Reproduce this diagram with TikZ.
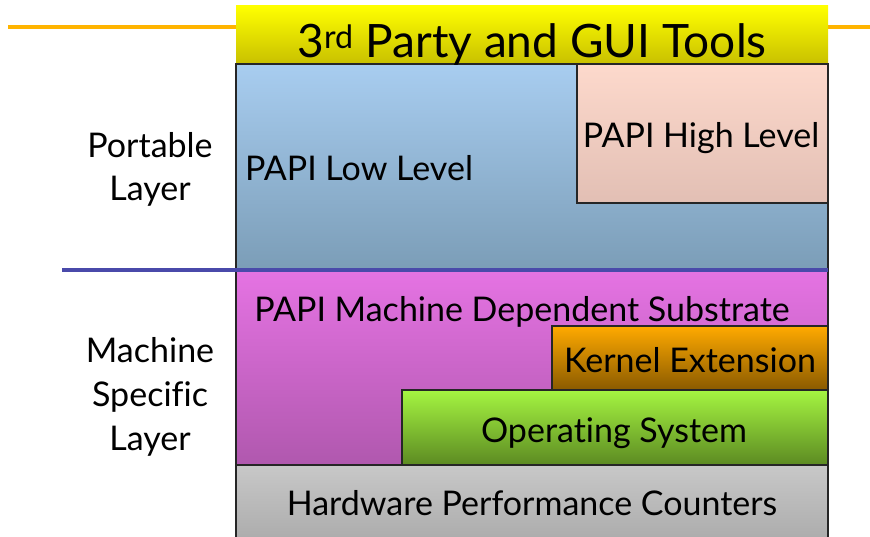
\documentclass[tikz,border=0pt]{standalone}
\usepackage{fontspec}
\setmainfont{Lato}[Ligatures=NoCommon]
\definecolor{ylTop}{HTML}{FFFF00}
\definecolor{ylBot}{HTML}{C8C000}
\definecolor{blTop}{HTML}{A8CDF0}
\definecolor{blBot}{HTML}{7B9DB7}
\definecolor{hiTop}{HTML}{FDD9CC}
\definecolor{hiBot}{HTML}{E2BFB4}
\definecolor{mgTop}{HTML}{E573E3}
\definecolor{mgBot}{HTML}{B058AE}
\definecolor{keTop}{HTML}{FFAA00}
\definecolor{keBot}{HTML}{8A5A00}
\definecolor{osTop}{HTML}{A5F541}
\definecolor{osBot}{HTML}{5C8A22}
\definecolor{hwTop}{HTML}{C8C8C8}
\definecolor{hwBot}{HTML}{AAAAAA}
\definecolor{rule}{HTML}{FFB400}
\definecolor{divider}{HTML}{4A4AAA}
\begin{document}
\begin{tikzpicture}[x=1pt,y=-1pt,
  box/.style={draw=black!85, line width=1.2pt},
  lbl/.style={font=\fontsize{34}{40}\selectfont, inner sep=0pt, anchor=base}]
\useasboundingbox (0,0) rectangle (870,537);
\clip (0,0) rectangle (870,537);
% orange rule behind the title bar
\draw[rule, line width=3.2pt] (8,27) -- (870,27);
% boxes
\shade[top color=ylTop, bottom color=ylBot] (236,6) rectangle (828,64);
\shade[box, top color=blTop, bottom color=blBot] (236,64) rectangle (828,270);
\shade[box, top color=hiTop, bottom color=hiBot] (577,64) rectangle (828,203);
\shade[box, top color=mgTop, bottom color=mgBot] (236,270) rectangle (828,465);
\shade[box, top color=keTop, bottom color=keBot] (552,326) rectangle (828,390);
\shade[box, top color=osTop, bottom color=osBot] (402,390) rectangle (828,465);
\shade[box, top color=hwTop, bottom color=hwBot] (236,465) rectangle (828,545);
% divider
\draw[divider, line width=3.2pt] (62,270) -- (828,270);
% texts
\node[lbl, font=\fontsize{46}{52}\selectfont] (title) at (532,58) {3\textsuperscript{rd} Party and GUI Tools};
\node[lbl] (low) at (359,181) {PAPI Low Level};
\node[lbl] (high) at (701,148) {PAPI High Level};
\node[lbl] (sub) at (522,321) {PAPI Machine Dependent Substrate};
\node[lbl] (kern) at (690,372) {Kernel Extension};
\node[lbl] (os) at (614,442) {Operating System};
\node[lbl] (hw) at (532,515) {Hardware Performance Counters};
\node[lbl] (port1) at (150,158) {Portable};
\node[lbl] (port2) at (150,201) {Layer};
\node[lbl] (mach1) at (150,362) {Machine};
\node[lbl] (mach2) at (150,406) {Specific};
\node[lbl] (mach3) at (150,450) {Layer};
\end{tikzpicture}
\end{document}
